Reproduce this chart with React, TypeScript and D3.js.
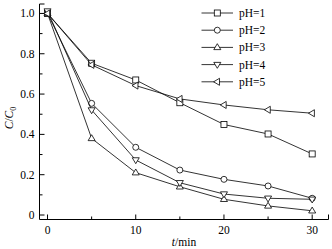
import React from "react";
import * as d3 from "d3";

const times = [0, 5, 10, 15, 20, 25, 30];
const seriesNames = ["pH=1", "pH=2", "pH=3", "pH=4", "pH=5"];
const ph1 = [1.0, 0.753, 0.67, 0.557, 0.449, 0.402, 0.303];
const ph2 = [1.0, 0.554, 0.336, 0.223, 0.177, 0.144, 0.083];
const ph3 = [1.0, 0.38, 0.21, 0.14, 0.078, 0.045, 0.021];
const ph4 = [1.012, 0.521, 0.273, 0.16, 0.104, 0.083, 0.078];
const ph5 = [1.0, 0.745, 0.642, 0.576, 0.546, 0.522, 0.505];
const seriesValues = [ph1, ph2, ph3, ph4, ph5];
const markerTypes = ["square", "circle", "up", "down", "left"];
const xTicks = [0, 10, 20, 30];
const xMinor = [5, 15, 25];
const yTicks = [0, 0.2, 0.4, 0.6, 0.8, 1.0];
const yMinor = [0.1, 0.3, 0.5, 0.7, 0.9];

const W = 332;
const H = 249;
const left = 39.5;
const right = 328.5;
const top = 4;
const bottom = 219.5;

const x = d3.scaleLinear().domain([-0.91, 31.85]).range([left, right]);
const y = d3.scaleLinear().domain([-0.0223, 1.0469]).range([bottom, top]);

const font = "'Liberation Serif', 'Times New Roman', serif";

function Marker({ type, cx, cy }: { type: string; cx: number; cy: number }) {
  const s = 3;
  const common = { fill: "white", stroke: "black", strokeWidth: 0.8 };
  if (type === "square")
    return <rect x={cx - s} y={cy - s} width={2 * s} height={2 * s} {...common} />;
  if (type === "circle") return <circle cx={cx} cy={cy} r={s} {...common} />;
  const r = 3.7;
  let pts: [number, number][] = [];
  if (type === "up")
    pts = [[cx, cy - r], [cx - r * 0.95, cy + r * 0.6], [cx + r * 0.95, cy + r * 0.6]];
  if (type === "down")
    pts = [[cx, cy + r], [cx - r * 0.95, cy - r * 0.6], [cx + r * 0.95, cy - r * 0.6]];
  if (type === "left")
    pts = [[cx - r, cy], [cx + r * 0.6, cy - r * 0.95], [cx + r * 0.6, cy + r * 0.95]];
  return <polygon points={pts.map((p) => p.join(",")).join(" ")} {...common} />;
}

export default function App() {
  const line = d3
    .line<number>()
    .x((_, i) => x(times[i]))
    .y((d) => y(d));
  return (
    <svg
      width={W}
      height={H}
      style={{ position: "absolute", left: 0, top: 0, background: "white" }}
      fontFamily={font}
    >
      <line x1={left} x2={left} y1={top} y2={bottom} stroke="black" strokeWidth={1} />
      <line x1={left} x2={right} y1={bottom} y2={bottom} stroke="black" strokeWidth={1} />
      <line x1={left} x2={left + 5} y1={top} y2={top} stroke="black" strokeWidth={1} />
      <line x1={right} x2={right} y1={bottom} y2={bottom - 5} stroke="black" strokeWidth={1} />
      {yTicks.map((t) => (
        <g key={"y" + t}>
          <line x1={left} x2={left + 5} y1={y(t)} y2={y(t)} stroke="black" />
          <text x={left - 5} y={y(t) + 4} textAnchor="end" fontSize={11.5}>
            {t === 0 ? "0" : t.toFixed(1)}
          </text>
        </g>
      ))}
      {yMinor.map((t) => (
        <line key={"ym" + t} x1={left} x2={left + 3} y1={y(t)} y2={y(t)} stroke="black" />
      ))}
      {xTicks.map((t) => (
        <g key={"x" + t}>
          <line x1={x(t)} x2={x(t)} y1={bottom} y2={bottom - 5} stroke="black" />
          <text x={x(t)} y={bottom + 14} textAnchor="middle" fontSize={11.5}>
            {t}
          </text>
        </g>
      ))}
      {xMinor.map((t) => (
        <line key={"xm" + t} x1={x(t)} x2={x(t)} y1={bottom} y2={bottom - 3} stroke="black" />
      ))}
      <text x={(left + right) / 2} y={246} textAnchor="middle" fontSize={11.5}>
        <tspan fontStyle="italic">t</tspan>/min
      </text>
      <text
        transform={`translate(13, ${118}) rotate(-90)`}
        textAnchor="middle"
        fontSize={11.5}
      >
        <tspan fontStyle="italic">C</tspan>/<tspan fontStyle="italic">C</tspan>
        <tspan fontSize={8} dy={3}>0</tspan>
      </text>
      {seriesValues.map((vals, si) => (
        <g key={"s" + si}>
          <path d={line(vals) || ""} fill="none" stroke="black" strokeWidth={0.8} />
          {vals.map((v, i) => (
            <Marker key={i} type={markerTypes[si]} cx={x(times[i])} cy={y(v)} />
          ))}
        </g>
      ))}
      {seriesNames.map((name, i) => {
        const ly = 13 + i * 17.2;
        return (
          <g key={"l" + name}>
            <line x1={201.5} x2={233} y1={ly} y2={ly} stroke="black" strokeWidth={0.8} />
            <Marker type={markerTypes[i]} cx={217.3} cy={ly} />
            <text x={239} y={ly + 4} fontSize={11.5}>
              {name}
            </text>
          </g>
        );
      })}
    </svg>
  );
}
